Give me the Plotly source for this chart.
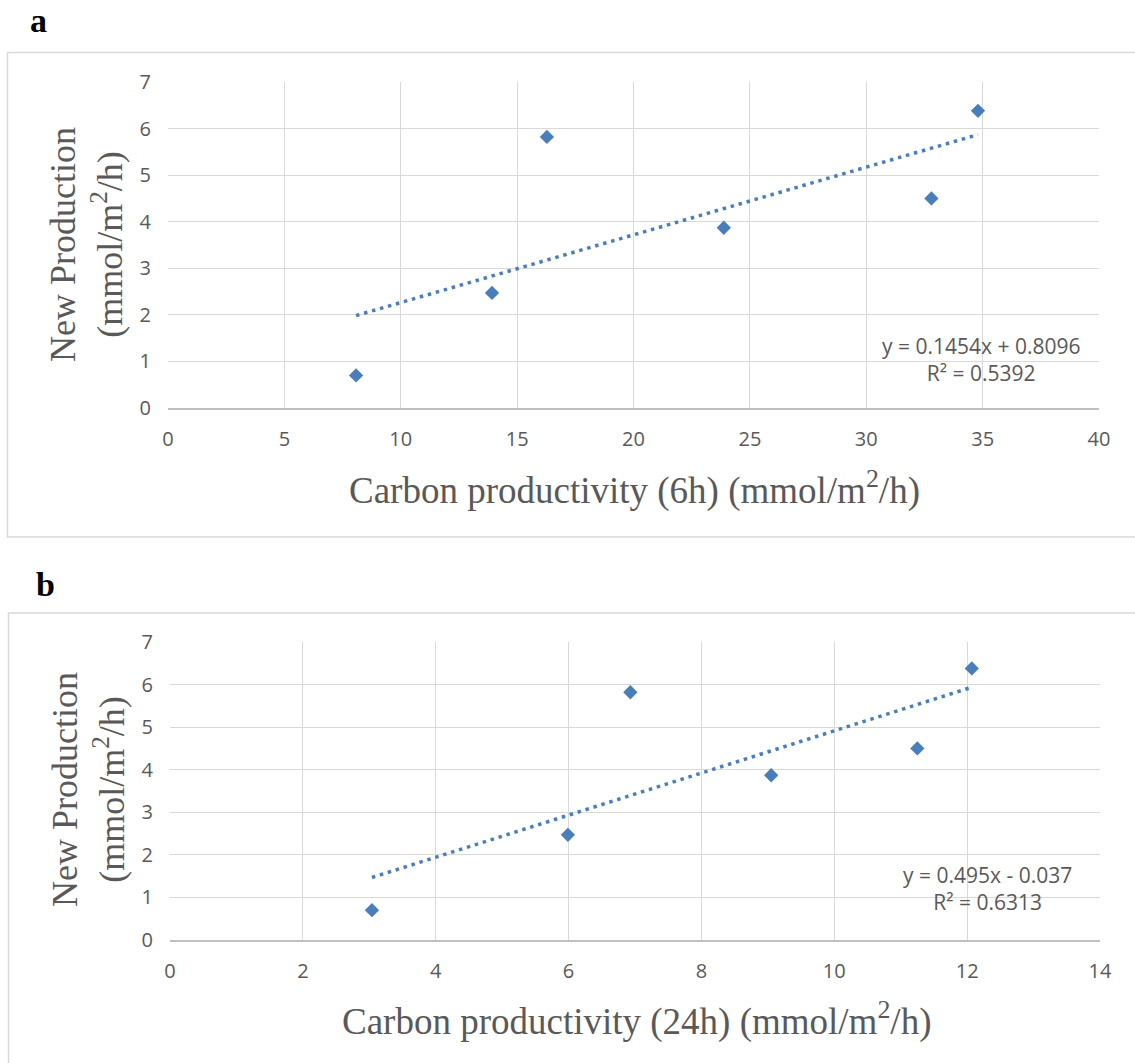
import plotly.graph_objects as go

# ---- data ----
new_production = [0.70, 2.47, 5.82, 3.87, 4.50, 6.38]
carbon_6h = [8.08, 13.92, 16.28, 23.88, 32.80, 34.80]
carbon_24h = [3.04, 5.99, 6.93, 9.05, 11.25, 12.07]

# trendline coefficients as printed on the chart
slope_a, intercept_a = 0.1454, 0.8096
slope_b, intercept_b = 0.495, -0.037
eq_a = ["y = 0.1454x + 0.8096", "R² = 0.5392"]
eq_b = ["y = 0.495x - 0.037", "R² = 0.6313"]

xticks_a = [0, 5, 10, 15, 20, 25, 30, 35, 40]
xticks_b = [0, 2, 4, 6, 8, 10, 12, 14]
yticks = [0, 1, 2, 3, 4, 5, 6, 7]

W, H = 1135, 1063
def px(x):
    return x / W
def py(y):
    return 1 - y / H

BLUE = "#4A7EBB"
GREY_TXT = "#595959"
GRID = "#D9D9D9"
SERIF = "Liberation Serif, Times New Roman, serif"
SANS = "Open Sans, Noto Sans, sans-serif"

fig = go.Figure()

def add_panel(xs, ys, slope, intercept, xa, ya):
    fig.add_trace(go.Scatter(
        x=xs, y=ys, mode="markers", xaxis=xa, yaxis=ya,
        marker=dict(symbol="diamond", size=11, color=BLUE,
                    line=dict(width=0)),
        showlegend=False, hoverinfo="x+y"))
    x0, x1 = min(xs), max(xs)
    fig.add_trace(go.Scatter(
        x=[x0, x1], y=[slope * x0 + intercept, slope * x1 + intercept],
        mode="lines", xaxis=xa, yaxis=ya,
        line=dict(color=BLUE, width=3.5, dash="3.5px,4.8px"),
        showlegend=False, hoverinfo="skip"))

add_panel(carbon_6h, new_production, slope_a, intercept_a, "x", "y")
add_panel(carbon_24h, new_production, slope_b, intercept_b, "x2", "y2")

tickfont = dict(family=SANS, size=20, color=GREY_TXT)

def xaxis_cfg(domain, ticks, anchor):
    return dict(domain=domain, range=[ticks[0], ticks[-1]], tickmode="array",
                tickvals=ticks, ticktext=[str(t) for t in ticks],
                showgrid=True, gridcolor=GRID, gridwidth=1.3,
                zeroline=False, showline=True, linecolor="#BFBFBF", linewidth=1.5,
                ticks="", ticklabelstandoff=12, tickfont=tickfont,
                anchor=anchor, fixedrange=True, automargin=False)

def yaxis_cfg(domain, anchor):
    return dict(domain=domain, range=[0, 7], tickmode="array",
                tickvals=yticks, ticktext=[str(t) for t in yticks],
                showgrid=True, gridcolor=GRID, gridwidth=1.3,
                zeroline=False, showline=False,
                ticks="", ticklabelstandoff=16, tickfont=tickfont,
                anchor=anchor, fixedrange=True, automargin=False)

fig.update_layout(
    width=W, height=H,
    margin=dict(l=0, r=0, t=0, b=0, pad=0, autoexpand=False),
    paper_bgcolor="white", plot_bgcolor="white",
    showlegend=False,
    xaxis=xaxis_cfg([px(168), px(1099)], xticks_a, "y"),
    yaxis=yaxis_cfg([py(408), py(82)], "x"),
    xaxis2=xaxis_cfg([px(170), px(1100)], xticks_b, "y2"),
    yaxis2=yaxis_cfg([py(940), py(642)], "x2"),
)

# outer chart borders
fig.add_shape(type="rect", xref="paper", yref="paper",
              x0=px(7.5), x1=px(1145), y0=py(537), y1=py(52.5),
              line=dict(color=GRID, width=1.5), layer="below")
fig.add_shape(type="rect", xref="paper", yref="paper",
              x0=px(8.5), x1=px(1145), y0=py(1080), y1=py(613),
              line=dict(color=GRID, width=1.5), layer="below")

title_font = dict(family=SERIF, size=36, color=GREY_TXT)
xtitle_font = dict(family=SERIF, size=37, color=GREY_TXT)
ytitle = "New Production<br>(mmol/m<sup>2</sup>/h)"

anns = [
    dict(text="<b>a</b>", x=px(38), y=py(20), font=dict(family=SERIF, size=34, color="black")),
    dict(text="<b>b</b>", x=px(45), y=py(584), font=dict(family=SERIF, size=34, color="black")),
    dict(text=ytitle, x=px(86), y=py(245), textangle=-90, font=title_font),
    dict(text=ytitle, x=px(88), y=py(790), textangle=-90, font=title_font),
    dict(text="Carbon productivity (6h) (mmol/m<sup>2</sup>/h)", x=px(634), y=py(488), font=xtitle_font),
    dict(text="Carbon productivity (24h) (mmol/m<sup>2</sup>/h)", x=px(636), y=py(1019), font=xtitle_font),
]
for a in anns:
    fig.add_annotation(xref="paper", yref="paper", xanchor="center", yanchor="middle",
                       showarrow=False, **a)

eq_font = dict(family=SANS, size=21, color=GREY_TXT)
fig.add_annotation(xref="x", yref="y", x=34.95, y=1.05, text="<br>".join(eq_a),
                   showarrow=False, font=eq_font, xanchor="center", yanchor="middle", align="center")
fig.add_annotation(xref="x2", yref="y2", x=12.3, y=1.22, text="<br>".join(eq_b),
                   showarrow=False, font=eq_font, xanchor="center", yanchor="middle", align="center")

fig.write_html("out.html")
